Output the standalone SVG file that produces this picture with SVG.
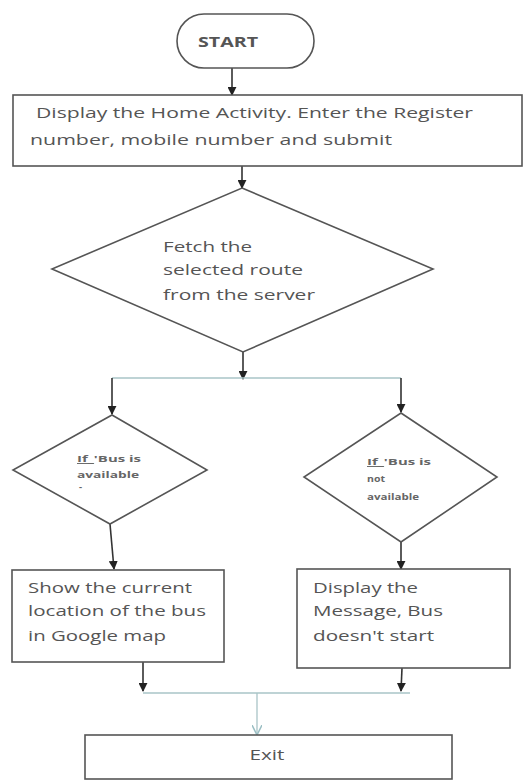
<svg xmlns="http://www.w3.org/2000/svg" width="525" height="782" viewBox="0 0 525 782">
<defs>
<style>
.s{fill:#fff;stroke:#555;stroke-width:1.6}
.t{font-family:"Open Sans","Liberation Sans",sans-serif;fill:#555;font-size:15px}
.sm{font-size:9.5px;font-weight:bold;fill:#666}
.c{fill:none;stroke:#333;stroke-width:1.6}
.lt{fill:none;stroke:#a9c4c7;stroke-width:1.3}
</style>
<marker id="ah" viewBox="0 0 10 10" refX="9" refY="5" markerWidth="9" markerHeight="9" orient="auto" markerUnits="userSpaceOnUse">
<path d="M0,0 L10,5 L0,10 z" fill="#222"/>
</marker>
<marker id="ahl" viewBox="0 0 10 10" refX="9" refY="5" markerWidth="10" markerHeight="10" orient="auto" markerUnits="userSpaceOnUse">
<path d="M0,0 L10,5 L0,10" fill="none" stroke="#9bbfc4" stroke-width="1.5"/>
</marker>
</defs>
<rect width="525" height="782" fill="#fff"/>
<g id="connectors">
<line class="c" x1="232" y1="68" x2="232" y2="95" marker-end="url(#ah)"/>
<line class="c" x1="242" y1="166" x2="242" y2="188" marker-end="url(#ah)"/>
<line class="c" x1="243" y1="352" x2="243" y2="379" marker-end="url(#ah)"/>
<line class="lt" x1="112" y1="378" x2="401" y2="378"/>
<line class="c" x1="112" y1="378" x2="112" y2="414" marker-end="url(#ah)"/>
<line class="c" x1="401" y1="378" x2="401" y2="412" marker-end="url(#ah)"/>
<line class="c" x1="110" y1="524" x2="114" y2="569" marker-end="url(#ah)"/>
<line class="c" x1="401" y1="542" x2="401" y2="569" marker-end="url(#ah)"/>
<line class="c" x1="143" y1="662" x2="143" y2="691" marker-end="url(#ah)"/>
<line class="c" x1="402" y1="668" x2="401" y2="691" marker-end="url(#ah)"/>
<line class="lt" x1="143" y1="693" x2="410" y2="693"/>
<line class="lt" x1="257" y1="693" x2="257" y2="734" marker-end="url(#ahl)"/>
</g>
<g id="start">
<rect class="s" x="177" y="14" width="137" height="54" rx="27" ry="27"/>
<text class="t" x="228" y="47" text-anchor="middle" font-weight="bold" font-size="13" textLength="60" lengthAdjust="spacingAndGlyphs">START</text>
</g>
<g id="home">
<rect class="s" x="13" y="95" width="509" height="71"/>
<text class="t" x="36" y="118" textLength="437" lengthAdjust="spacingAndGlyphs">Display the Home Activity. Enter the Register</text>
<text class="t" x="30" y="145" textLength="362" lengthAdjust="spacingAndGlyphs">number, mobile number  and submit</text>
</g>
<g id="fetch">
<polygon class="s" points="242,188 433,269 243,352 52,269"/>
<text class="t" x="163" y="252" textLength="89" lengthAdjust="spacingAndGlyphs">Fetch the</text>
<text class="t" x="163" y="275" textLength="140" lengthAdjust="spacingAndGlyphs">selected route</text>
<text class="t" x="163" y="300" textLength="152" lengthAdjust="spacingAndGlyphs">from the server</text>
</g>
<g id="available">
<polygon class="s" points="112,415 207,470 110,524 13,470"/>
<text class="t sm" x="77" y="462" textLength="64" lengthAdjust="spacingAndGlyphs"><tspan text-decoration="underline">If_</tspan>'Bus is</text>
<text class="t sm" x="77" y="478" textLength="62" lengthAdjust="spacingAndGlyphs">available</text>
<text class="t sm" x="79" y="490">-</text>
</g>
<g id="notavailable">
<polygon class="s" points="401,413 497,477 401,542 304,477"/>
<text class="t sm" x="367" y="465" textLength="64" lengthAdjust="spacingAndGlyphs"><tspan text-decoration="underline">If_</tspan>'Bus is</text>
<text class="t sm" x="367" y="482" textLength="18" lengthAdjust="spacingAndGlyphs">not</text>
<text class="t sm" x="367" y="500" textLength="52" lengthAdjust="spacingAndGlyphs">available</text>
</g>
<g id="showlocation">
<rect class="s" x="12" y="570" width="212" height="92"/>
<text class="t" x="28" y="593" font-size="16" textLength="164" lengthAdjust="spacingAndGlyphs">Show the current</text>
<text class="t" x="28" y="616" font-size="16" textLength="178" lengthAdjust="spacingAndGlyphs">location of the bus</text>
<text class="t" x="28" y="641" font-size="16" textLength="138" lengthAdjust="spacingAndGlyphs">in Google map</text>
</g>
<g id="message">
<rect class="s" x="297" y="569" width="213" height="99"/>
<text class="t" x="313" y="593" font-size="16" textLength="105" lengthAdjust="spacingAndGlyphs">Display the</text>
<text class="t" x="313" y="616" font-size="16" textLength="130" lengthAdjust="spacingAndGlyphs">Message, Bus</text>
<text class="t" x="313" y="641" font-size="16" textLength="121" lengthAdjust="spacingAndGlyphs">doesn't start</text>
</g>
<g id="exit">
<rect class="s" x="85" y="735" width="367" height="44"/>
<text class="t" x="267" y="760" text-anchor="middle" font-size="13" textLength="35" lengthAdjust="spacingAndGlyphs">Exit</text>
</g>
</svg>
